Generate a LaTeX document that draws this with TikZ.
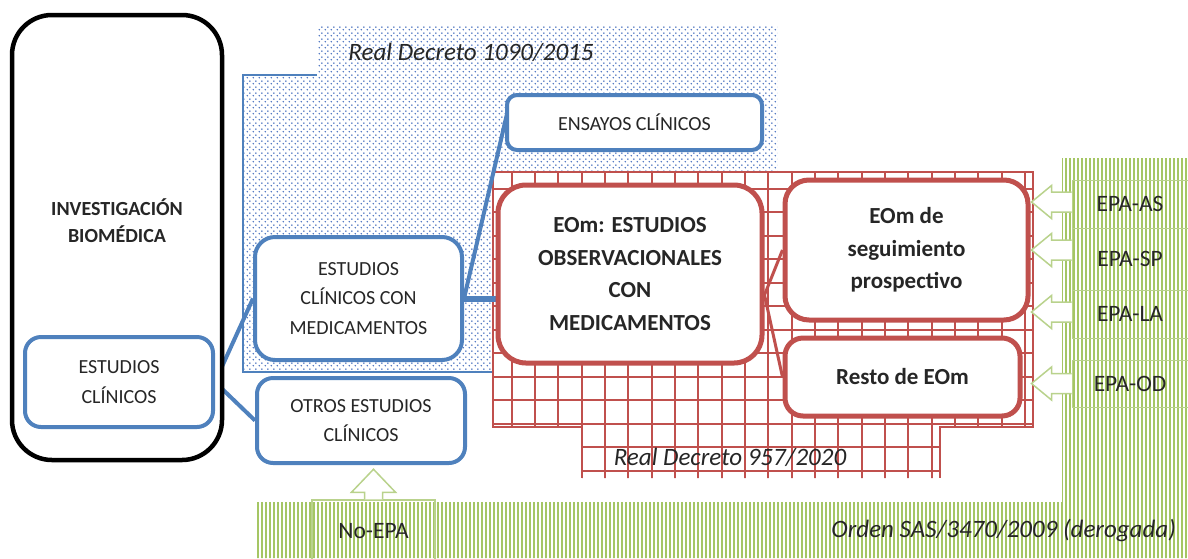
\documentclass[tikz,border=0pt]{standalone}
\usepackage{fontspec}
\setmainfont{Carlito}
\usetikzlibrary{calc,patterns.meta}
\definecolor{bl}{RGB}{79,129,189}
\definecolor{rd}{RGB}{192,80,77}
\definecolor{gr}{RGB}{165,198,100}
\definecolor{grl}{RGB}{185,210,140}
\definecolor{dotc}{RGB}{70,110,190}
\definecolor{txt}{RGB}{38,38,38}
\pgfdeclarelayer{bg}
\pgfdeclarelayer{conn}
\pgfsetlayers{bg,conn,main}
\tikzdeclarepattern{name=bluedots, type=colored,
  bounding box={(0pt,0pt) and (6pt,6pt)}, tile size={(6pt,6pt)},
  code={\fill[dotc] (1.5pt,1.5pt) circle (0.95pt); \fill[dotc] (4.5pt,4.5pt) circle (0.95pt);}}
\newcommand{\hollowleftarrow}[2]{%
  \draw[hollow] ($(#1.west)+(0,#2-10)$) -- ++(-20,0) -- ++(0,-6.5) -- ++(-20,16.5) -- ++(20,16.5) -- ++(0,-6.5) -- ++(20,0);}
\tikzset{
  bbox/.style={draw=bl, line width=4pt, rounded corners=16pt, fill=white, align=center, text=txt,
    font=\fontsize{20}{29.5}\selectfont, inner sep=0pt},
  rbox/.style={draw=rd, line width=5pt, rounded corners=24pt, fill=white, align=center, text=txt,
    font=\bfseries\fontsize{23}{32.5}\selectfont, inner sep=0pt},
  bconn/.style={draw=bl, line width=4pt},
  rconn/.style={draw=rd, line width=3pt},
  hollow/.style={draw=grl, line width=1.5pt, fill=white, line join=miter},
  epabox/.style={draw=grl, line width=1pt, minimum width=116pt, text=txt, inner sep=0pt,
    font=\fontsize{23.5}{26}\selectfont},
  lawtext/.style={font=\itshape\fontsize{25}{30}\selectfont, text=txt, inner sep=0pt},
  gridline/.style={draw=rd, line width=2.3pt},
  stripe/.style={draw=gr, line width=2pt},
}
\begin{document}
\begin{tikzpicture}[x=1pt, y=-1pt]
\useasboundingbox (0,0) rectangle (1188,558);

% ---------- main nodes ----------
\node[draw=black, line width=4.5pt, rounded corners=40pt, minimum width=210pt, minimum height=445pt, fill=white, inner sep=0pt] (inv) at (117,237.5) {};
\node[font=\bfseries\fontsize{20}{27}\selectfont, align=center, text=txt] (invt) at (117,221) {INVESTIGACIÓN\\BIOMÉDICA};

\node[bbox, minimum width=188pt, minimum height=90pt] (ec) at (119,382) {ESTUDIOS\\CLÍNICOS};
\node[bbox, minimum width=207pt, minimum height=123pt, rounded corners=20pt] (eccm) at (358.5,298.5) {ESTUDIOS\\CLÍNICOS CON\\MEDICAMENTOS};
\node[bbox, minimum width=208pt, minimum height=85pt] (otros) at (361,420.5) {OTROS ESTUDIOS\\CLÍNICOS};
\node[bbox, minimum width=255pt, minimum height=55pt, rounded corners=10pt] (ens) at (634.5,122.5) {ENSAYOS CLÍNICOS};

\node[rbox, minimum width=264pt, minimum height=178pt, rounded corners=28pt] (eom) at (630,274) {EOm: ESTUDIOS\\OBSERVACIONALES\\CON\\MEDICAMENTOS};
\node[rbox, minimum width=243pt, minimum height=140pt] (seg) at (906.5,250) {EOm de\\seguimiento\\prospectivo};
\node[rbox, minimum width=235pt, minimum height=78pt, rounded corners=18pt] (resto) at (902.5,377) {Resto de EOm};

\node[epabox, minimum height=48pt] (as) at (1130,204) {EPA-AS};
\node[epabox, minimum height=62pt] (sp) at (1130,259) {EPA-SP};
\node[epabox, minimum height=48pt] (la) at (1130,314) {EPA-LA};
\node[epabox, minimum height=47pt] (od) at (1130,383.5) {EPA-OD};
\node[draw=grl, line width=1.5pt, minimum width=123pt, minimum height=62pt, text=txt, inner sep=0pt,
  font=\fontsize{23.5}{26}\selectfont] (noepa) at (373.5,531) {No-EPA};

% ---------- block arrows ----------
\hollowleftarrow{as}{-2}
\hollowleftarrow{sp}{-9}
\hollowleftarrow{la}{-2}
\hollowleftarrow{od}{0}
\draw[hollow] ($(noepa.north)+(-9,0)$) -- ++(0,-7) -- ++(-13,0) -- ++(22,-23) -- ++(22,23) -- ++(-13,0) -- ++(0,7);

% ---------- connectors ----------
\begin{pgfonlayer}{conn}
  \draw[bconn] (ec.east) -- (eccm.west);
  \draw[bconn] (ec.east) -- (otros.west);
  \draw[bconn] (eccm.east) -- ($(ens.north west)+(5,8)$);
  \draw[bconn, line width=6pt] (eccm.east) -- (eccm.east -| eom.west);
  \coordinate (eomr) at ($(eom.east)+(0,21)$);
  \draw[rconn] (eomr) -- (seg.west);
  \draw[rconn] (eomr) -- (resto.west);
\end{pgfonlayer}

% ---------- background regions ----------
\begin{pgfonlayer}{bg}
  % Real Decreto 1090/2015 (dotted)
  \fill[pattern=bluedots] (317,25) -- (777,25) -- (777,372) -- (243,372) -- (243,75) -- (317,75) -- cycle;
  \draw[bl, line width=1.2pt] (317,75) -- (243,75) -- (243,372) -- (493,372);
  \node[lawtext] (rd1) at (471,52) {Real Decreto 1090/2015};
  % Real Decreto 957/2020 (red grid)
  \fill[white] (493,172) -- (1033,172) -- (1033,427) -- (940,427) -- (940,478) -- (582,478) -- (582,427) -- (493,427) -- cycle;
  \begin{scope}
    \clip (493,172) -- (1033,172) -- (1033,427) -- (940,427) -- (940,478) -- (582,478) -- (582,427) -- (493,427) -- cycle;
    \foreach \i in {0,...,24} \draw[gridline] ({488.33+23.333*\i},160) -- ++(0,330);
    \foreach \j in {0,...,13} \draw[gridline] (480,{165.2+23.5*\j}) -- ++(570,0);
  \end{scope}
  \draw[rd, line width=2.3pt] (582,478) -- (582,427) -- (493,427) -- (493,172) -- (1033,172) -- (1033,427) -- (940,427) -- (940,478);
  \node[lawtext] (rd2) at (730,457) {Real Decreto 957/2020};
  % Orden SAS/3470/2009 (green stripes)
  \begin{scope}
    \clip (1062,158) -- (1188,158) -- (1188,558) -- (257,558) -- (257,502) -- (1062,502) -- cycle;
    \foreach \k in {0,...,233} \draw[stripe] ({258+4*\k},150) -- ++(0,415);
  \end{scope}
  \node[lawtext, anchor=east] (orden) at (1176,530) {Orden SAS/3470/2009 (derogada)};
\end{pgfonlayer}
\end{tikzpicture}
\end{document}
